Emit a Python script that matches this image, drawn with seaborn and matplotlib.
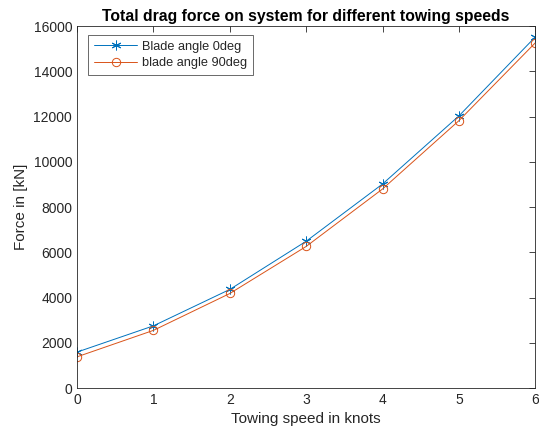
import matplotlib
matplotlib.use("Agg")
import matplotlib.pyplot as plt
import seaborn as sns
import pandas as pd

speed = [0, 1, 2, 3, 4, 5, 6]
force_0deg = [1590, 2750, 4360, 6490, 9020, 12030, 15520]
force_90deg = [1380, 2550, 4180, 6260, 8800, 11820, 15260]
labels = ["Blade angle 0deg", "blade angle 90deg"]

sns.set_style("white")
plt.rcParams['font.family'] = ['Liberation Sans', 'DejaVu Sans']

fig = plt.figure(figsize=(5.39, 4.36), dpi=100)
ax = fig.add_axes([0.143, 0.110, 0.850, 0.830])

df0 = pd.DataFrame({"speed": speed, "force": force_0deg})
df1 = pd.DataFrame({"speed": speed, "force": force_90deg})
sns.lineplot(data=df0, x="speed", y="force", ax=ax, color="#0072BD", lw=0.7,
             marker=(6, 2, 0), markersize=7, markeredgewidth=0.7,
             markeredgecolor="#0072BD", label=labels[0])
sns.lineplot(data=df1, x="speed", y="force", ax=ax, color="#D95319", lw=0.7,
             marker="o", markersize=6, markerfacecolor="none", markeredgecolor="#D95319",
             markeredgewidth=0.7, label=labels[1])

ax.set_xlim(0, 6)
ax.set_ylim(0, 16000)
ax.set_xticks(range(0, 7))
ax.set_yticks(range(0, 16001, 2000))
ax.tick_params(direction="in", length=4, width=0.6, colors="#262626", labelsize=10,
               top=True, right=True, labeltop=False, labelright=False)
ax.tick_params(axis="both", which="both", labelcolor="#262626")
for s in ax.spines.values():
    s.set_color("#262626")
    s.set_linewidth(0.6)
ax.set_xlabel("Towing speed in knots", fontsize=11, color="#262626")
ax.set_ylabel("Force in [kN]", fontsize=11, color="#262626")
ax.set_title("Total drag force on system for different towing speeds", fontsize=11.3,
             fontweight="bold", color="black", pad=4)
leg = ax.legend(loc="upper left", fontsize=9.2, frameon=True, fancybox=False,
                edgecolor="#262626", borderpad=0.45, handlelength=3.4,
                handletextpad=0.4, labelspacing=0.35, borderaxespad=0,
                bbox_to_anchor=(0.024, 0.975))
leg.get_frame().set_linewidth(0.6)

fig.savefig("out.png", dpi=100, facecolor="white")
